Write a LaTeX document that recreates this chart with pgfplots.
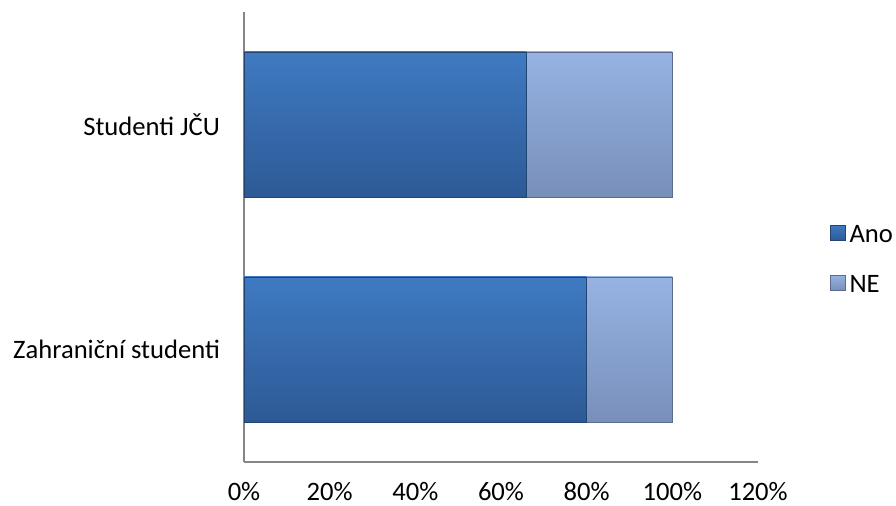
\documentclass[border=0pt]{standalone}
\usepackage{pgfplots}
\pgfplotsset{compat=1.18}
\usepackage{fontspec}
\setmainfont{Carlito}
\definecolor{anoTop}{HTML}{3F7AC2}
\definecolor{anoBot}{HTML}{2D5A96}
\definecolor{neTop}{HTML}{96B3E2}
\definecolor{neBot}{HTML}{788FBA}
\definecolor{axgray}{HTML}{868686}
\pgfplotsset{
  common/.style={
    at={(122pt,21.5pt)}, anchor=south west,
    scale only axis, width=257pt, height=225pt,
    xbar stacked, bar width=0.645,
    xmin=0, xmax=120, ymin=-0.5, ymax=1.5,
  },
  anoStyle/.style={draw=anoBot!75!black, line width=0.3pt, top color=anoTop, bottom color=anoBot, shading angle=0},
  neStyle/.style={draw=neBot!75!black, line width=0.3pt, top color=neTop, bottom color=neBot, shading angle=0},
}
\begin{document}
\begin{tikzpicture}
\useasboundingbox (0,0) rectangle (448pt,252.5pt);
\begin{axis}[
  common,
  axis lines*=left,
  axis line style={draw=axgray, line width=0.6pt, -},
  xtick={0,20,...,120},
  xticklabel={\pgfmathprintnumber{\tick}\%},
  ytick={0,1}, yticklabels={Zahraniční studenti, Studenti JČU},
  major tick length=0pt,
  tick label style={font=\fontsize{13.3}{15}\selectfont},
  xticklabel style={yshift=-6.5pt},
  yticklabel style={xshift=-8.5pt},
  /pgf/number format/assume math mode=true,
  legend style={at={(1.140,0.4533)}, anchor=west, draw=none, fill=none,
    inner sep=0pt, outer sep=0pt,
    font=\fontsize{13.3}{15}\selectfont, row sep=16pt,
    nodes={inner sep=0pt, text height=9pt, text depth=0pt}},
  legend cell align=left,
  legend image code/.code={\path[#1] (0pt,-3.6pt) rectangle (7.5pt,3.9pt); \path (9.5pt,0pt);},
]
% Studenti JCU
\addplot+[anoStyle] coordinates {(66,1)};
\addplot+[neStyle] coordinates {(34,1)};
\legend{Ano, NE}
\end{axis}
\begin{axis}[common, hide axis]
% Zahranicni studenti
\addplot+[anoStyle] coordinates {(80,0)};
\addplot+[neStyle] coordinates {(20,0)};
\end{axis}
\end{tikzpicture}
\end{document}
